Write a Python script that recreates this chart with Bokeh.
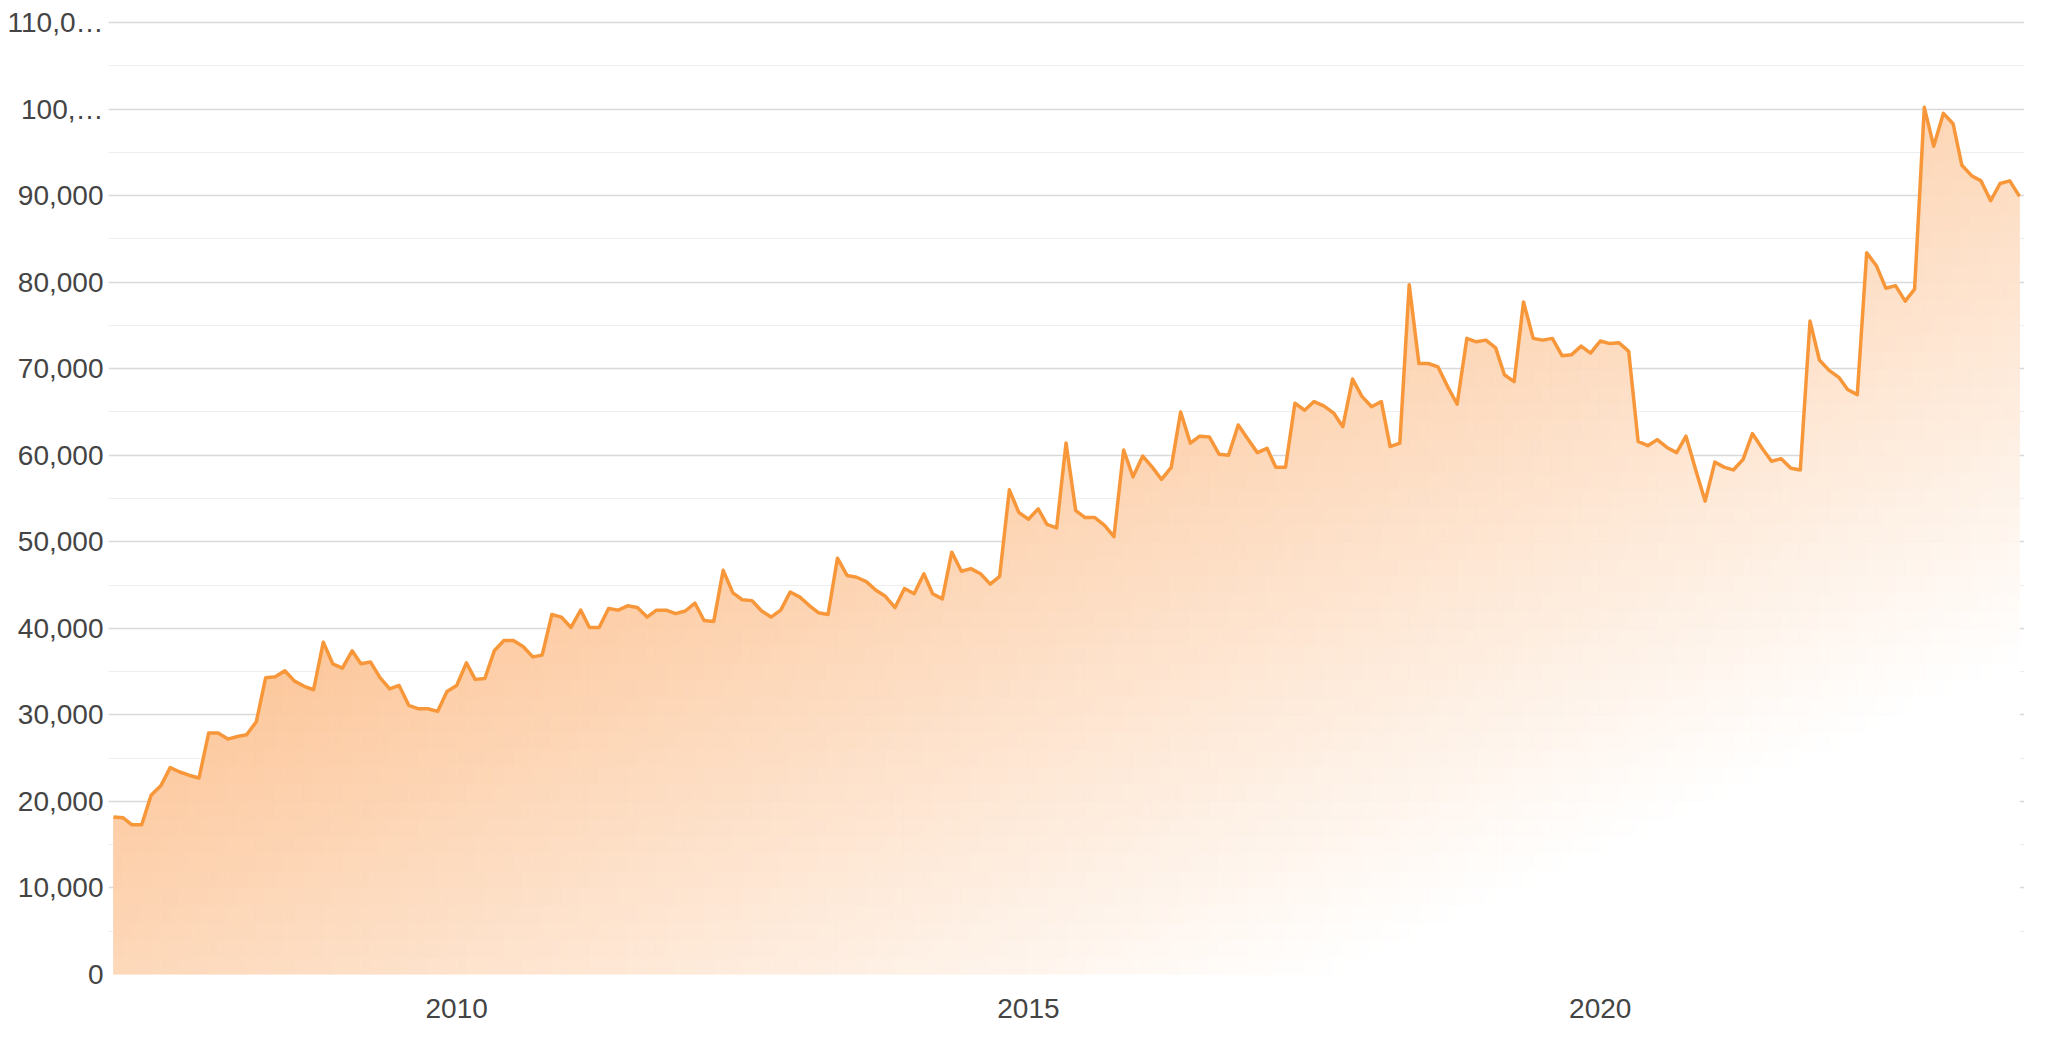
import numpy as np
import pandas as pd
from bokeh.plotting import figure
from bokeh.models import Range1d, FixedTicker, ColumnDataSource, DatetimeTickFormatter
from bokeh.embed import file_html
from bokeh.resources import INLINE

# ---------------- data ----------------
start_month = "2007-01-01"
values = [
    18200, 18100, 17300, 17300, 20700, 21800, 23900, 23400, 23000, 22700,
    27900, 27900, 27200, 27500, 27700, 29200, 34300, 34400, 35100, 33900,
    33300, 32900, 38400, 35900, 35400, 37400, 35900, 36100, 34300, 33000,
    33400, 31100, 30700, 30700, 30400, 32700, 33400, 36000, 34100, 34200,
    37400, 38600, 38600, 37900, 36700, 36900, 41600, 41300, 40100, 42100,
    40100,
    40100, 42300, 42100, 42600, 42400, 41300, 42100, 42100, 41700, 42000,
    42900, 40900, 40800, 46700, 44100, 43300, 43200, 42000, 41300, 42100,
    44200, 43600, 42600, 41800, 41600, 48100, 46100, 45900, 45400, 44400,
    43700, 42400, 44600, 44000, 46300, 44000, 43400, 48800, 46600, 46900,
    46300, 45100, 46000, 56000, 53400, 52600, 53800, 52000, 51600,
    61400, 53600, 52800, 52800, 51900, 50600, 60600, 57500, 59900, 58600,
    57200, 58600, 65000, 61400, 62200, 62100, 60100, 60000, 63500, 61900,
    60300, 60800, 58600, 58600, 66000, 65200, 66200, 65700, 64900, 63300,
    68800, 66800, 65600, 66200, 61000, 61400, 79700, 70600, 70600, 70200,
    67900, 65900, 73500, 73100, 73300, 72400, 69300, 68500, 77700, 73500,
    73300, 73500, 71500, 71600, 72600, 71800, 73200, 72900, 73000, 72000,
    61600, 61100, 61800, 60900, 60300, 62200, 58300, 54700, 59200, 58600,
    58300, 59500, 62500, 60800, 59300, 59600, 58500, 58300, 75500, 71000,
    69800, 69000, 67600, 67000, 83400, 81900, 79300, 79600, 77800, 79200,
    100200, 95700, 99500, 98300, 93500, 92300, 91700, 89400, 91400, 91700,
    89900,
]
y_ticks = [0, 10000, 20000, 30000, 40000, 50000, 60000, 70000, 80000, 90000, 100000, 110000]
y_tick_labels = ["0", "10,000", "20,000", "30,000", "40,000", "50,000", "60,000",
                 "70,000", "80,000", "90,000", "100,\u2026", "110,0\u2026"]
y_minor_ticks = [5000, 15000, 25000, 35000, 45000, 55000, 65000, 75000, 85000, 95000, 105000]
x_tick_dates = ["2010-01-01", "2015-01-01", "2020-01-01"]
x_tick_labels = ["2010", "2015", "2020"]

# ---------------- derived ----------------
dates = pd.date_range(start_month, periods=len(values), freq="MS")
x_ms = dates.values.astype("datetime64[ms]").astype("int64").astype(float)
yv = np.array(values, dtype=float)
x_tick_ms = [float(np.datetime64(d, "ms").astype("int64")) for d in x_tick_dates]

# diagonal gradient (top-left orange -> bottom-right white), bounding-box based
c0 = np.array([250.0, 155.0, 77.0])
white = np.array([255.0, 255.0, 255.0])
stop_white = 0.82
xmin, xmax = x_ms[0], x_ms[-1]
ymax = yv.max()
band = 2000.0


def clip(poly, yc, keep_above):
    out = []
    n = len(poly)
    for j in range(n):
        P = poly[j]
        Q = poly[(j + 1) % n]
        inP = P[1] >= yc if keep_above else P[1] <= yc
        inQ = Q[1] >= yc if keep_above else Q[1] <= yc
        if inP:
            out.append(P)
        if inP != inQ:
            t = (yc - P[1]) / (Q[1] - P[1])
            out.append((P[0] + t * (Q[0] - P[0]), yc))
    return out


xs_list, ys_list, colors = [], [], []
for i in range(len(yv) - 1):
    xa, xb = x_ms[i], x_ms[i + 1]
    ya, yb = yv[i], yv[i + 1]
    nb = int(np.ceil(max(ya, yb) / band))
    for k in range(nb):
        lo, hi = k * band, (k + 1) * band
        poly = [(xa, 0.0), (xb, 0.0), (xb, yb), (xa, ya)]
        poly = clip(poly, lo, True)
        if len(poly) < 3:
            continue
        poly = clip(poly, hi, False)
        if len(poly) < 3:
            continue
        px = [p[0] for p in poly]
        py = [p[1] for p in poly]
        cx, cy = float(np.mean(px)), float(np.mean(py))
        u = (cx - xmin) / (xmax - xmin)
        v = (ymax - cy) / ymax
        t = min(1.0, max(0.0, (u + v) / 2.0 / stop_white))
        col = c0 + (white - c0) * t
        colors.append("#%02x%02x%02x" % tuple(int(round(c)) for c in col))
        xs_list.append(px)
        ys_list.append(py)

cells = ColumnDataSource(dict(xs=xs_list, ys=ys_list, color=colors))
line_src = ColumnDataSource(dict(x=x_ms, y=yv))

day = 86400000.0
p = figure(
    width=2040, height=1050,
    x_axis_type="datetime",
    x_range=Range1d(x_ms[0] - 16 * day, x_ms[-1] + 16 * day),
    y_range=Range1d(0, 110230),
    output_backend="svg", toolbar_location=None,
    min_border_left=108, min_border_right=16, min_border_top=20, min_border_bottom=76,
)
p.outline_line_color = None
p.background_fill_color = "white"
p.border_fill_color = "white"

# grid
yticker = FixedTicker(ticks=y_ticks, minor_ticks=y_minor_ticks)
p.yaxis.ticker = yticker
p.ygrid.ticker = yticker
p.ygrid.grid_line_color = "#d9d9d9"
p.ygrid.grid_line_width = 1.4
p.ygrid.minor_grid_line_color = "#eeeeee"
p.ygrid.minor_grid_line_width = 1.2
p.xgrid.visible = False

# area with gradient (cells) and line
p.patches("xs", "ys", source=cells, fill_color="color", line_color="color", line_width=0.8)
p.line("x", "y", source=line_src, line_color="#f7973a", line_width=3.5, line_join="round")

# axes
for ax in (p.xaxis[0], p.yaxis[0]):
    ax.axis_line_color = None
    ax.major_tick_line_color = None
    ax.minor_tick_line_color = None
    ax.major_tick_out = 0
    ax.major_tick_in = 0
    ax.minor_tick_out = 0
    ax.minor_tick_in = 0
    ax.major_label_text_font = "Liberation Sans"
    ax.major_label_text_font_size = "28px"
    ax.major_label_text_color = "#444444"

p.yaxis.major_label_overrides = {t: lab for t, lab in zip(y_ticks, y_tick_labels)}
p.yaxis.major_label_standoff = 5

p.xaxis.ticker = FixedTicker(ticks=x_tick_ms)
p.xaxis.formatter = DatetimeTickFormatter(years="%Y", months="%Y", days="%Y")
p.xaxis.major_label_overrides = {t: lab for t, lab in zip(x_tick_ms, x_tick_labels)}
p.xaxis.major_label_standoff = 24

open("out.html", "w").write(file_html(p, INLINE))
